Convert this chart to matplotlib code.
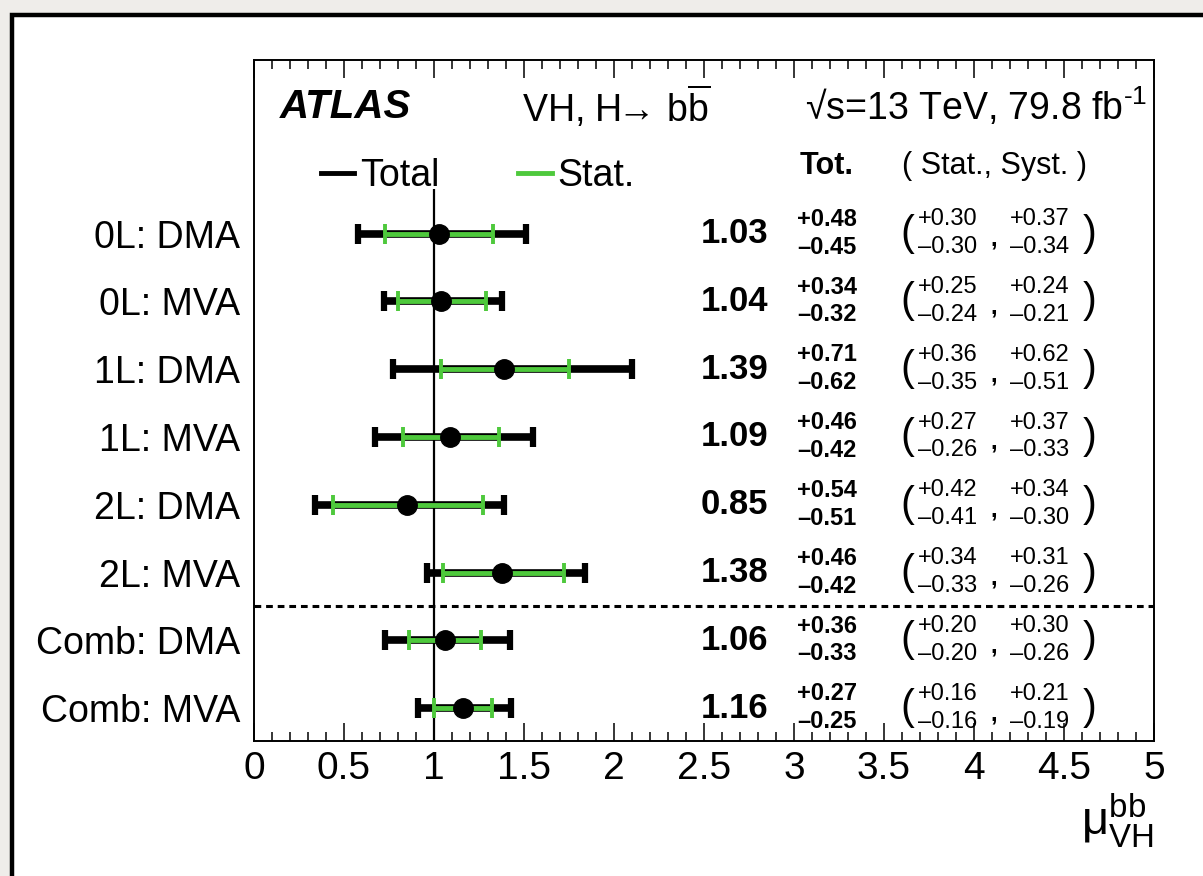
import matplotlib
matplotlib.use('Agg')
from matplotlib import pyplot as plt
from matplotlib.lines import Line2D
from matplotlib.patches import Rectangle
from matplotlib.ticker import MultipleLocator, FuncFormatter

plt.rcParams['font.family'] = ['Liberation Sans', 'DejaVu Sans']
plt.rcParams['mathtext.fontset'] = 'custom'
plt.rcParams['mathtext.rm'] = 'Liberation Sans'
plt.rcParams['mathtext.it'] = 'Liberation Sans:italic'
plt.rcParams['mathtext.bf'] = 'Liberation Sans:bold'

# measurements (mu and uncertainties)
labels = ['0L: DMA', '0L: MVA', '1L: DMA', '1L: MVA',
          '2L: DMA', '2L: MVA', 'Comb: DMA', 'Comb: MVA']
mu = [1.03, 1.04, 1.39, 1.09, 0.85, 1.38, 1.06, 1.16]
tot_up = [0.48, 0.34, 0.71, 0.46, 0.54, 0.46, 0.36, 0.27]
tot_dn = [0.45, 0.32, 0.62, 0.42, 0.51, 0.42, 0.33, 0.25]
stat_up = [0.30, 0.25, 0.36, 0.27, 0.42, 0.34, 0.20, 0.16]
stat_dn = [0.30, 0.24, 0.35, 0.26, 0.41, 0.33, 0.20, 0.16]
syst_up = [0.37, 0.24, 0.62, 0.37, 0.34, 0.31, 0.30, 0.21]
syst_dn = [0.34, 0.21, 0.51, 0.33, 0.30, 0.26, 0.26, 0.19]

green = '#4ec93c'
rows = list(range(len(labels)))

fig = plt.figure(figsize=(12.03, 8.76), dpi=100, facecolor='#efedea')
frame = Rectangle((12 / 1203, -0.2), 1.2, 1.2 - 15 / 876,
                  transform=fig.transFigure, facecolor='white',
                  edgecolor='black', lw=3.2, zorder=-10)
fig.add_artist(frame)

ax = fig.add_axes([254 / 1203, 1 - 741 / 876, 900 / 1203, 681 / 876])
ax.set_facecolor('none')
ax.set_xlim(0, 5)
ax.set_ylim(7.485, -2.56)

ax.vlines(1, -0.65, 7.485, color='black', lw=1.6, zorder=1)
ax.axhline(5.5, color='black', lw=2.2, ls=(0, (2.2, 1.6)), zorder=1)

ax.errorbar(mu, rows, xerr=[tot_dn, tot_up], fmt='none', ecolor='black',
            elinewidth=5.5, capsize=7.5, capthick=4.5, zorder=2)
ax.errorbar(mu, rows, xerr=[stat_dn, stat_up], fmt='none', ecolor=green,
            elinewidth=3.5, capsize=7.5, capthick=2.8, zorder=3)
ax.plot(mu, rows, 'o', color='black', ms=14, zorder=4)

# axis styling
ax.xaxis.set_major_locator(MultipleLocator(0.5))
ax.xaxis.set_minor_locator(MultipleLocator(0.1))
ax.xaxis.set_major_formatter(FuncFormatter(lambda v, p: '%g' % v))
ax.tick_params(axis='x', which='both', direction='in', top=True, width=1.1)
ax.tick_params(axis='x', which='major', length=13, labelsize=28, pad=7)
ax.tick_params(axis='x', which='minor', length=6.5)
ax.set_yticks(rows)
ax.set_yticklabels(labels, fontsize=27)
ax.tick_params(axis='y', length=0, pad=10)
for s in ax.spines.values():
    s.set_linewidth(1.4)

ax.text(1.0, -0.075, r'$\mathrm{μ}^{\mathrm{bb}}_{\mathrm{VH}}$', transform=ax.transAxes,
        ha='right', va='top', fontsize=34)

# header
ax.text(0.145, -1.87, 'ATLAS', fontsize=29, fontweight='bold', style='italic', va='center')
ax.text(1.49, -1.87, r'VH, H$\!\!\rightarrow\!$ b$\overline{\mathrm{b}}$', fontsize=27, va='center')
ax.text(3.06, -1.87, '\u221as=13 TeV, 79.8 fb$^{\\text{-1}}$', fontsize=27, va='center')

handles = [Line2D([], [], color='black', lw=3.5), Line2D([], [], color=green, lw=3.5)]
ax.legend(handles, ['Total', 'Stat.'], loc='center left', bbox_to_anchor=(0.074, 0.83),
          ncol=2, frameon=False, fontsize=27, handlelength=0.9, handletextpad=0.15,
          columnspacing=2.1, borderpad=0, borderaxespad=0)

ax.text(3.03, -0.99, 'Tot.', fontsize=22, fontweight='bold', va='center')
ax.text(3.6, -0.99, '( Stat., Syst. )', fontsize=22, va='center')

# per-row numbers
for r in rows:
    ax.text(2.856, r, '%.2f' % mu[r], fontsize=25, fontweight='bold', ha='right', va='center')
    ax.text(3.017, r - 0.21, '+%.2f' % tot_up[r], fontsize=17, fontweight='bold', va='center')
    ax.text(3.017, r + 0.20, '\u2013%.2f' % tot_dn[r], fontsize=17, fontweight='bold', va='center')
    ax.text(3.63, r, '(', fontsize=30, ha='center', va='center')
    ax.text(3.69, r - 0.21, '+%.2f' % stat_up[r], fontsize=17, va='center')
    ax.text(3.69, r + 0.20, '\u2013%.2f' % stat_dn[r], fontsize=17, va='center')
    ax.text(4.11, r + 0.08, ',', fontsize=17, fontweight='bold', ha='center', va='center')
    ax.text(4.20, r - 0.21, '+%.2f' % syst_up[r], fontsize=17, va='center')
    ax.text(4.20, r + 0.20, '\u2013%.2f' % syst_dn[r], fontsize=17, va='center')
    ax.text(4.64, r, ')', fontsize=30, ha='center', va='center')

fig.savefig('out.png', dpi=100, facecolor=fig.get_facecolor())
